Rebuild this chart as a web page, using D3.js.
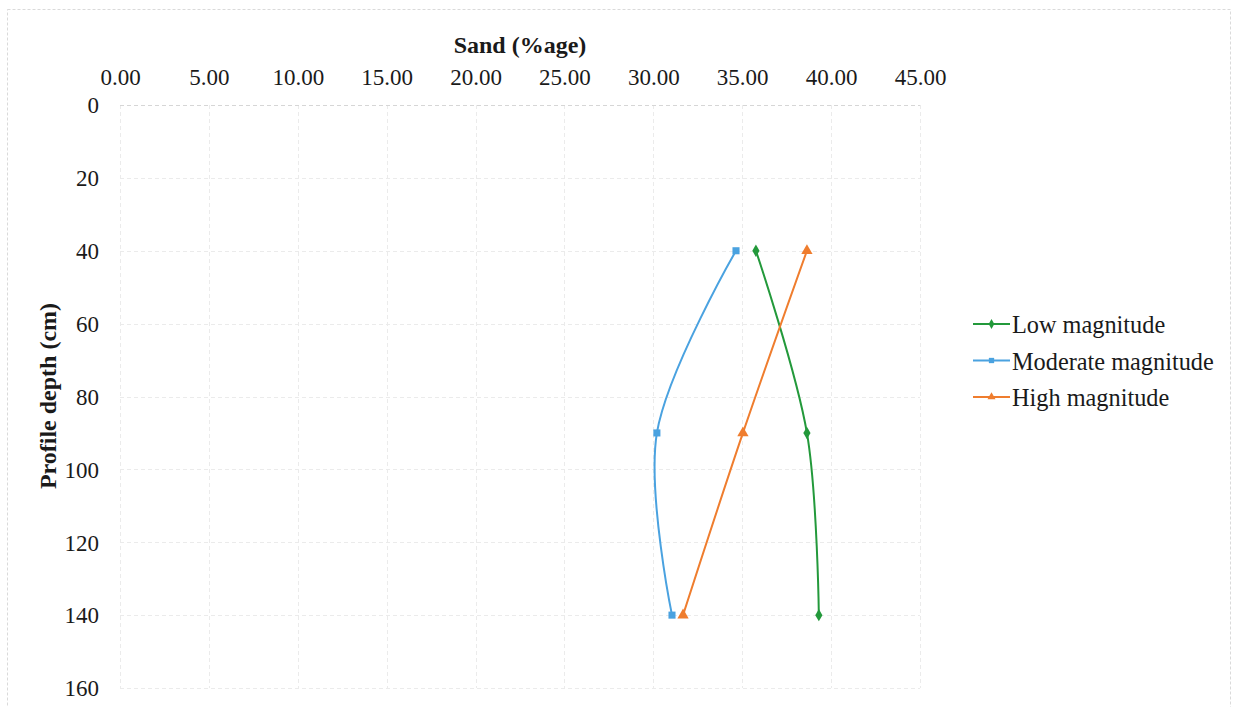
<!DOCTYPE html>
<html>
<head>
<meta charset="utf-8">
<script src="https://cdn.jsdelivr.net/npm/d3@7"></script>
<style>
  html, body { margin: 0; padding: 0; background: #fff; }
  svg { display: block; }
</style>
</head>
<body>
<svg id="chart" width="1233" height="707"></svg>
<script>
// Sampled depths (cm) and sand content (%) at each depth
const depths = [40, 90, 140];
const lowMagnitude = [35.77, 38.64, 39.31];
const moderateMagnitude = [34.65, 30.20, 31.05];
const highMagnitude = [38.64, 35.04, 31.67];

const seriesNames = ["Low magnitude", "Moderate magnitude", "High magnitude"];
const seriesColors = ["#23993b", "#4aa2e0", "#ef7d2e"];
const seriesMarkers = ["diamond", "square", "triangle"];

const xTicks = [0, 5, 10, 15, 20, 25, 30, 35, 40, 45];
const yTicks = [0, 20, 40, 60, 80, 100, 120, 140, 160];

const FONT = "'Liberation Serif'";

const svg = d3.select("#chart").style("font-family", FONT);
const plot = { left: 120, right: 920, top: 105, bottom: 688 };

const x = d3.scaleLinear().domain([0, 45]).range([plot.left, plot.right]);
const y = d3.scaleLinear().domain([0, 160]).range([plot.top, plot.bottom]);

const label = (sel, size) => sel.style("font-family", FONT).style("font-size", size + "px").style("fill", "#1a1a1a");

// outer chart frame
svg.append("rect")
  .attr("x", 7.5).attr("y", 9.5).attr("width", 1223).attr("height", 700)
  .attr("fill", "none").attr("stroke", "#dadada").attr("stroke-width", 1)
  .attr("stroke-dasharray", "3,2");

// gridlines
const grid = svg.append("g").attr("stroke", "#ebebeb").attr("stroke-width", 1)
  .attr("stroke-dasharray", "4,3");
grid.selectAll("line.v").data(xTicks).join("line")
  .attr("x1", d => Math.round(x(d)) + 0.5).attr("x2", d => Math.round(x(d)) + 0.5)
  .attr("y1", plot.top).attr("y2", plot.bottom);
grid.selectAll("line.h").data(yTicks).join("line")
  .attr("y1", d => Math.round(y(d)) + 0.5).attr("y2", d => Math.round(y(d)) + 0.5)
  .attr("x1", plot.left).attr("x2", plot.right)
  .attr("stroke", d => d === 0 ? "#d6d6d6" : null);

// top x axis labels
const xAxis = d3.axisTop(x).tickValues(xTicks).tickFormat(d3.format(".2f")).tickSize(0).tickPadding(0);
const gx = svg.append("g").attr("transform", `translate(0,${plot.top - 20})`).call(xAxis);
gx.attr("font-family", null).attr("font-size", null);
gx.select(".domain").remove();
gx.selectAll("text").call(label, 23);

// left y axis labels
const yAxis = d3.axisLeft(y).tickValues(yTicks).tickSize(0).tickPadding(0);
const gy = svg.append("g").attr("transform", `translate(99,0)`).call(yAxis);
gy.attr("font-family", null).attr("font-size", null);
gy.select(".domain").remove();
gy.selectAll("text").call(label, 23).attr("dy", "0.34em");

// axis titles
svg.append("text").attr("x", 520).attr("y", 53).attr("text-anchor", "middle")
  .call(label, 24).style("font-weight", "bold").text("Sand (%age)");
svg.append("text")
  .attr("transform", `translate(56,396) rotate(-90)`)
  .attr("text-anchor", "middle")
  .call(label, 24).style("font-weight", "bold")
  .text("Profile depth (cm)");

// series
const seriesValues = [lowMagnitude, moderateMagnitude, highMagnitude];
const line = d3.line().x(d => x(d.v)).y(d => y(d.depth)).curve(d3.curveCatmullRom.alpha(0.5));

const symbolFor = {
  diamond: d3.symbol().type(d3.symbolDiamond).size(45),
  square: d3.symbol().type(d3.symbolSquare).size(50),
  triangle: d3.symbol().type(d3.symbolTriangle).size(55)
};
const legendSymbol = [d3.symbolDiamond, d3.symbolSquare, d3.symbolTriangle];

seriesValues.forEach((vals, i) => {
  const pts = vals.map((v, j) => ({ v, depth: depths[j] }));
  svg.append("path").datum(pts)
    .attr("fill", "none").attr("stroke", seriesColors[i]).attr("stroke-width", 2)
    .attr("d", line);
  svg.append("g").selectAll("path").data(pts).join("path")
    .attr("transform", d => `translate(${x(d.v)},${y(d.depth)})`)
    .attr("d", symbolFor[seriesMarkers[i]])
    .attr("fill", seriesColors[i]);
});

// legend
const legend = svg.append("g").attr("transform", "translate(973,324)");
seriesNames.forEach((name, i) => {
  const g = legend.append("g").attr("transform", `translate(0,${i * 36.5})`);
  g.append("line").attr("x1", 0).attr("x2", 37).attr("y1", 0).attr("y2", 0)
    .attr("stroke", seriesColors[i]).attr("stroke-width", 2);
  g.append("path").attr("transform", "translate(18.5,0)")
    .attr("d", d3.symbol().type(legendSymbol[i]).size(28))
    .attr("fill", seriesColors[i]);
  g.append("text").attr("x", 39).attr("y", 9).call(label, 24.3).text(name);
});
</script>
</body>
</html>
